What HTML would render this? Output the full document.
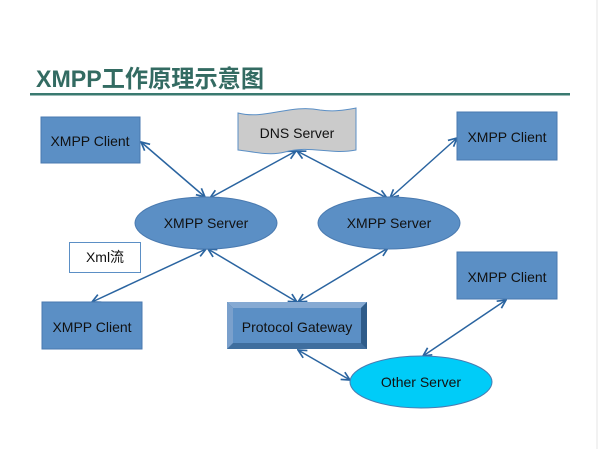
<!DOCTYPE html>
<html><head><meta charset="utf-8"><style>
html,body{margin:0;padding:0;background:#fff;}
svg{display:block;}
text{font-family:"Liberation Sans","Noto Sans CJK SC",sans-serif;}
</style></head><body>
<svg width="600" height="449" viewBox="0 0 600 449" xmlns="http://www.w3.org/2000/svg">
<defs>
<marker id="a" viewBox="0 0 10 10" refX="9" refY="5" markerWidth="7" markerHeight="7" orient="auto-start-reverse">
<path d="M1,1 L9,5 L1,9" fill="none" stroke="#2a64a0" stroke-width="1.6"/>
</marker>
</defs>
<line x1="597" y1="0" x2="597" y2="449" stroke="#e4e4e4" stroke-width="1"/>
<text x="36" y="87" font-size="24" font-weight="bold" fill="#336b62" textLength="228" lengthAdjust="spacingAndGlyphs">XMPP工作原理示意图</text>
<rect x="30" y="93" width="540" height="2.5" fill="#3a7a70"/>
<g stroke="#2a64a0" stroke-width="1.5" marker-start="url(#a)" marker-end="url(#a)">
<line x1="141" y1="142" x2="205" y2="197"/>
<line x1="296" y1="151" x2="210" y2="198"/>
<line x1="297" y1="151" x2="387" y2="198"/>
<line x1="457" y1="138" x2="390" y2="198"/>
<line x1="206" y1="249" x2="92" y2="302"/>
<line x1="208" y1="249" x2="297" y2="302"/>
<line x1="388" y1="248" x2="298" y2="302"/>
<line x1="298" y1="350" x2="350" y2="380"/>
<line x1="506" y1="300" x2="423" y2="356"/>
</g>
<rect x="41" y="117" width="99" height="46" fill="#5b8fc5" stroke="#4a7ab0"/>
<text x="90" y="146" font-size="14" text-anchor="middle" fill="#111">XMPP Client</text>
<rect x="457" y="112" width="100" height="48" fill="#5b8fc5" stroke="#4a7ab0"/>
<text x="507" y="142" font-size="14" text-anchor="middle" fill="#111">XMPP Client</text>
<path d="M238,113 C265,120 290,104 320,110 C335,112 345,110 356,108 L356,150 C330,155 310,145 285,152 C270,156 255,152 238,150 Z" fill="#cbcbcb" stroke="#5b8fc5" stroke-width="1"/>
<text x="297" y="138" font-size="14" text-anchor="middle" fill="#111">DNS Server</text>
<ellipse cx="206" cy="223" rx="71" ry="26" fill="#5b8fc5" stroke="#4a7ab0"/>
<text x="206" y="228" font-size="14" text-anchor="middle" fill="#111">XMPP Server</text>
<ellipse cx="389" cy="223" rx="71" ry="26" fill="#5b8fc5" stroke="#4a7ab0"/>
<text x="389" y="228" font-size="14" text-anchor="middle" fill="#111">XMPP Server</text>
<rect x="69.5" y="242.5" width="71" height="30" fill="#fff" stroke="#5b8fc5"/>
<text x="105" y="262" font-size="14" text-anchor="middle" fill="#111">Xml流</text>
<rect x="42" y="302" width="100" height="47" fill="#5b8fc5" stroke="#4a7ab0"/>
<text x="92" y="332" font-size="14" text-anchor="middle" fill="#111">XMPP Client</text>
<rect x="457" y="252" width="100" height="47" fill="#5b8fc5" stroke="#4a7ab0"/>
<text x="507" y="282" font-size="14" text-anchor="middle" fill="#111">XMPP Client</text>
<rect x="227" y="302" width="140" height="47" fill="#3f6e9e"/>
<polygon points="227,302 367,302 361,308 233,308" fill="#86aad3"/>
<polygon points="227,302 233,308 233,343 227,349" fill="#7aa0cc"/>
<polygon points="367,302 367,349 361,343 361,308" fill="#2f5c8a"/>
<rect x="233" y="308" width="128" height="35" fill="#5b8fc5"/>
<text x="297" y="332" font-size="14" text-anchor="middle" fill="#111">Protocol Gateway</text>
<ellipse cx="421" cy="382" rx="71" ry="26" fill="#00ccf8" stroke="#4a7ab0"/>
<text x="421" y="387" font-size="14" text-anchor="middle" fill="#111">Other Server</text>
</svg>
</body></html>
